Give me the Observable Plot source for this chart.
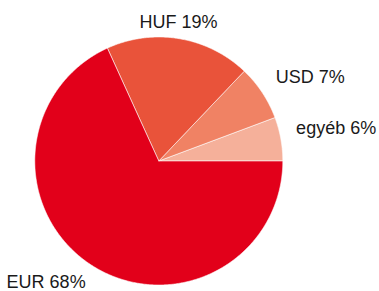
<!DOCTYPE html>
<html><head><meta charset="utf-8">
<script src="https://cdn.jsdelivr.net/npm/d3@7"></script>
<script src="https://cdn.jsdelivr.net/npm/@observablehq/plot@0.6"></script>
<style>html,body{margin:0;padding:0;background:#fff}</style>
</head><body><div id="chart"></div>
<script>
// Slices listed counter-clockwise, starting at 3 o'clock
const categories = ["egyéb", "USD", "HUF", "EUR"];
const shares = [5.7, 7.2, 18.9, 68.2];
const palette = ["#f5b09a", "#f08264", "#e9533a", "#e2001a"];

// layout: small pixel nudges of the outside labels
const labelNudge = {"egyéb": [-3, -7], "USD": [-2, -5], "HUF": [-4, 1.5], "EUR": [4, 1.5]};

const W = 379, H = 291;
const cx = 158.3, cy = 160.5, R = 124; // pixel geometry of the pie
const total = d3.sum(shares);

const slicePts = [];
const labels = [];
let acc = 0;
categories.forEach((c, i) => {
  const a0 = acc / total * 2 * Math.PI;
  acc += shares[i];
  const a1 = acc / total * 2 * Math.PI;
  slicePts.push({name: c, x: 0, y: 0});
  const n = Math.max(2, Math.ceil((a1 - a0) / (Math.PI / 360)));
  for (let k = 0; k <= n; k++) {
    const a = a0 + (a1 - a0) * k / n;
    slicePts.push({name: c, x: Math.cos(a), y: Math.sin(a)});
  }
  slicePts.push({name: c, x: 0, y: 0});
  const am = (a0 + a1) / 2;
  const r = 1.15;
  labels.push({
    text: `${c} ${Math.round(shares[i] / total * 100)}%`,
    x: r * Math.cos(am), y: r * Math.sin(am),
    dx: labelNudge[c][0], dy: labelNudge[c][1],
    anchor: Math.abs(Math.cos(am)) < 0.3 ? "middle" : (Math.cos(am) > 0 ? "start" : "end")
  });
});

const textMarks = labels.map(d => Plot.text([d], {
  x: "x", y: "y", text: "text", textAnchor: d.anchor, dx: d.dx, dy: d.dy,
  fontSize: 18, fill: "#1a1a1a"
}));

const chart = Plot.plot({
  width: W, height: H,
  margin: 0,
  style: {fontFamily: "'Liberation Sans', Arial, sans-serif", fontSize: "18px", background: "#fff"},
  x: {domain: [-cx / R, (W - cx) / R], axis: null},
  y: {domain: [(cy - H) / R, cy / R], axis: null},
  color: {domain: categories, range: palette},
  marks: [
    Plot.line(slicePts, {x: "x", y: "y", z: "name", fill: "name", stroke: "#fff", strokeWidth: 0.8, strokeOpacity: 0.7, curve: "linear"}),
    ...textMarks
  ]
});
document.getElementById("chart").appendChild(chart);
</script>
</body></html>
